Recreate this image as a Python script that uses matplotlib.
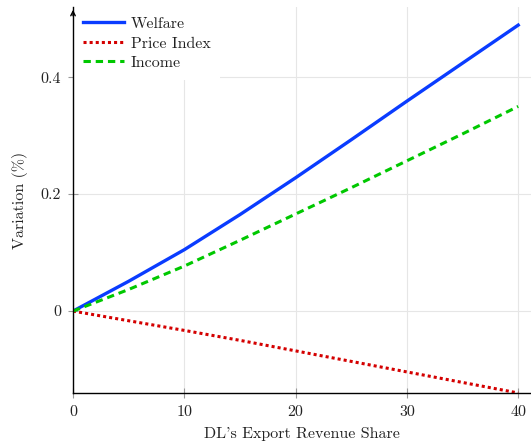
import matplotlib
matplotlib.use("Agg")
from matplotlib import pyplot as plt

plt.rcParams['font.family'] = 'serif'
plt.rcParams['font.serif'] = ['cmr10']
plt.rcParams['mathtext.fontset'] = 'cm'
plt.rcParams['axes.formatter.use_mathtext'] = True

# dados
share = [0, 5, 10, 15, 20, 25, 30, 35, 40]
welfare = [0, 0.051, 0.105, 0.165, 0.228, 0.293, 0.359, 0.424, 0.489]
price_index = [0, -0.0165, -0.033, -0.050, -0.068, -0.086, -0.104, -0.122, -0.140]
income = [0, 0.037, 0.077, 0.121, 0.166, 0.211, 0.257, 0.303, 0.350]

x_ticks = [0, 10, 20, 30, 40]
y_ticks = [0, 0.2, 0.4]
y_tick_labels = ['0', '0.2', '0.4']

fig = plt.figure(figsize=(5.31, 4.45), dpi=100)
ax = fig.add_axes([0.1375, 0.1169, 0.8625, 0.8674])

ax.plot(share, welfare, color='#0a3cff', linewidth=2.4, label='Welfare')
ax.plot(share, price_index, color='#d40000', linewidth=2.2, linestyle=(0, (1, 1)), label='Price Index')
ax.plot(share, income, color='#00c800', linewidth=2.2, linestyle=(0, (2.4, 1.6)), label='Income')

ax.set_xlim(0, 41.15)
ax.set_ylim(-0.14, 0.52)
ax.set_xticks(x_ticks)
ax.set_xticklabels([str(v) for v in x_ticks])
ax.set_yticks(y_ticks)
ax.set_yticklabels(y_tick_labels)

ax.grid(True, color='#e6e6e6', linewidth=0.8)
ax.set_axisbelow(True)
ax.spines['top'].set_visible(False)
ax.spines['right'].set_visible(False)
ax.spines['left'].set_linewidth(1.0)
ax.spines['bottom'].set_linewidth(1.0)
ax.tick_params(direction='inout', length=7, width=0.8, color='#999999', labelsize=11.5, labelcolor='#222222', pad=5)

ax.annotate('', xy=(0, 1.0), xytext=(0, 0.97), xycoords='axes fraction',
            arrowprops=dict(arrowstyle='->', lw=1.0, color='black', mutation_scale=8))

ax.set_xlabel("DL's Export Revenue Share", fontsize=11.5, color='#222222', labelpad=6)
ax.set_ylabel('Variation (%)', fontsize=11.5, color='#222222', labelpad=9)

leg = ax.legend(loc='upper left', bbox_to_anchor=(0, 1), borderaxespad=0, fontsize=11.5,
                handlelength=2.6, handletextpad=0.4, labelspacing=0.33, borderpad=0.62,
                frameon=True, fancybox=False, framealpha=1)
leg.get_frame().set_facecolor('white')
leg.get_frame().set_edgecolor('none')
leg.set_zorder(2.4)
for t in leg.get_texts():
    t.set_color('#222222')

plt.savefig('out.png', dpi=100)
